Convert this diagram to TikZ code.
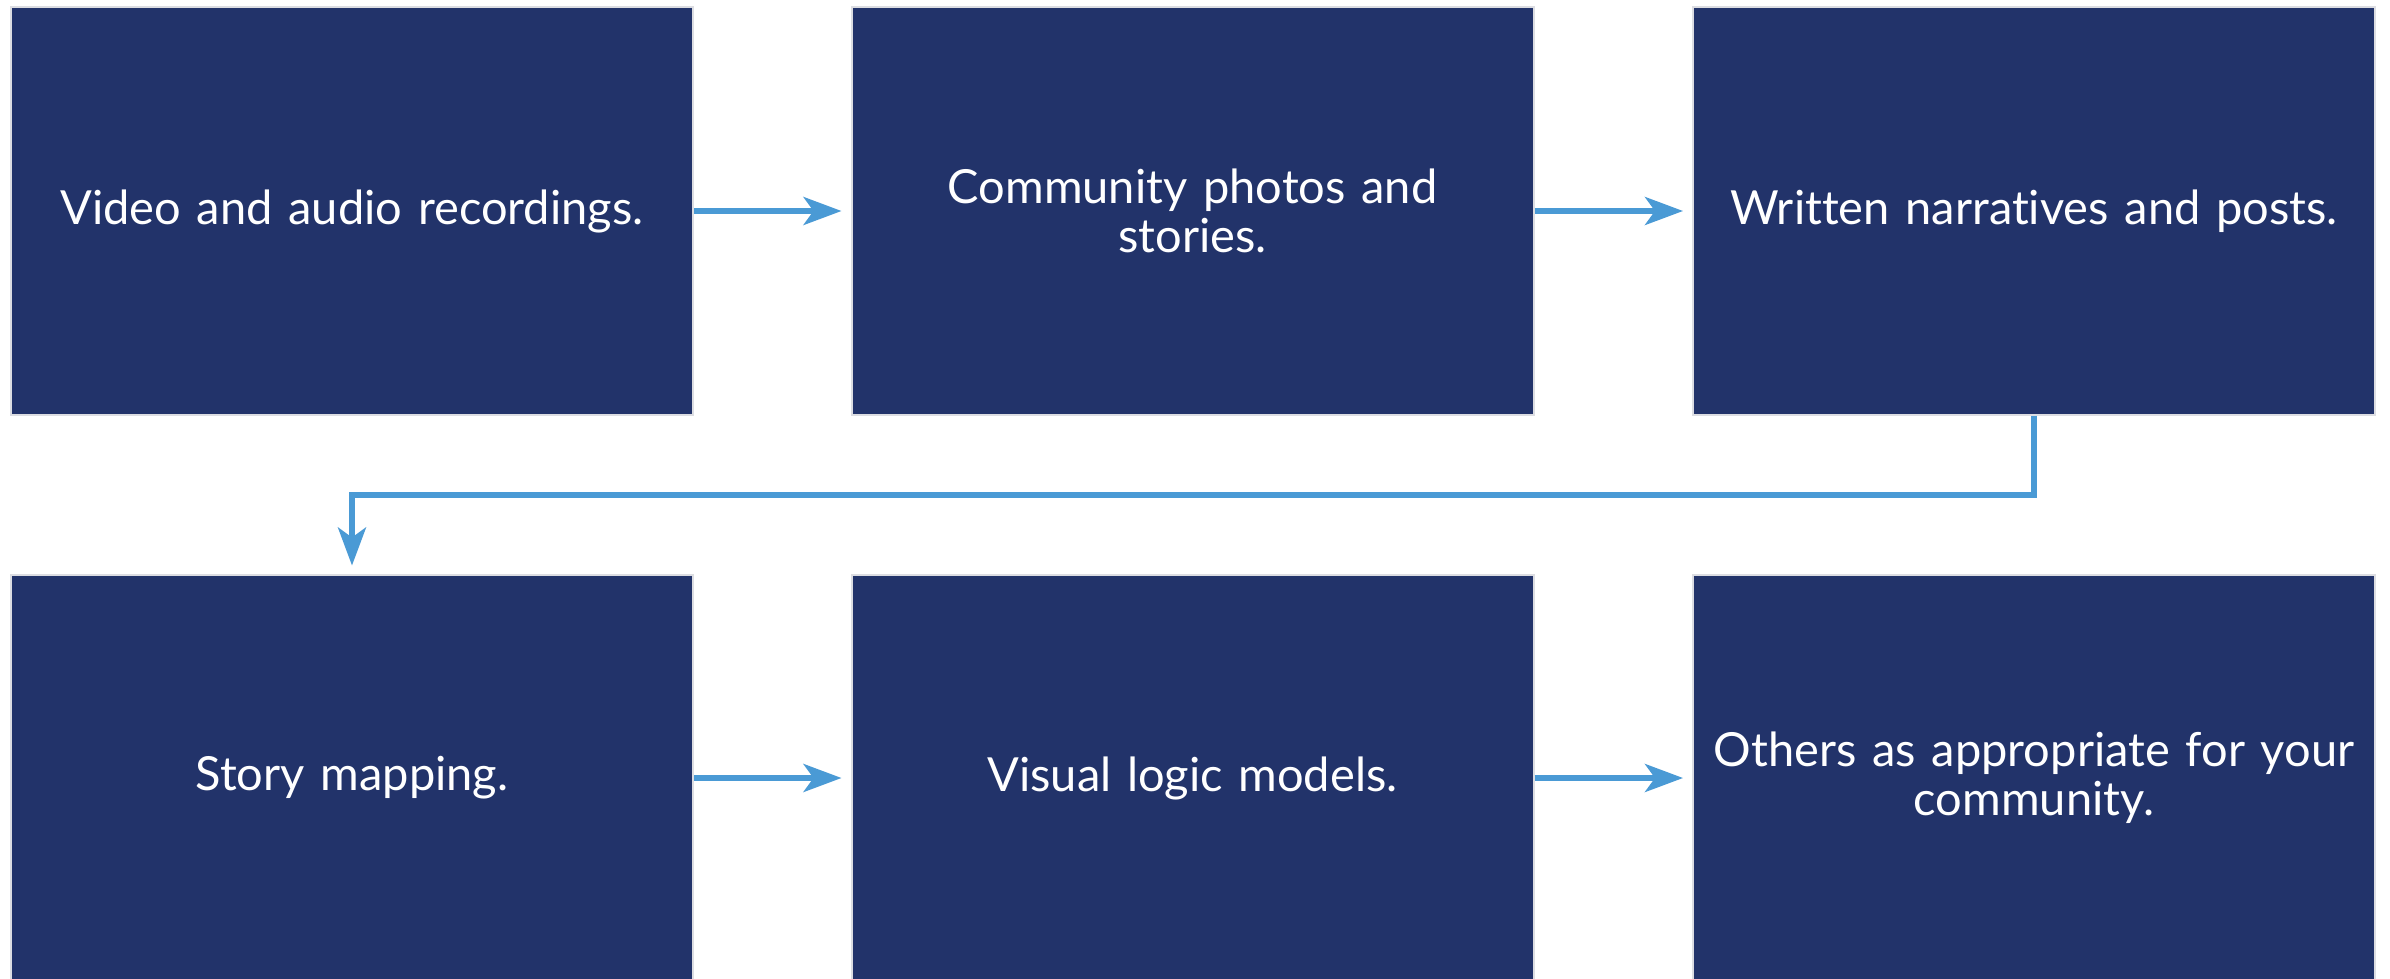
\documentclass[tikz,border=0pt]{standalone}
\usepackage{fontspec}
\setmainfont{Lato}[Ligatures={NoCommon}]
\usetikzlibrary{arrows.meta}
\definecolor{navy}{HTML}{22336A}
\definecolor{arrowblue}{HTML}{4A9AD5}
\definecolor{edgegray}{HTML}{DCDDE2}
\begin{document}
\begin{tikzpicture}[x=0.5pt,y=-0.5pt,
  box/.style={draw=edgegray, line width=1pt, fill=navy, text=white,
    minimum width=341pt, minimum height=203.5pt, inner sep=0pt,
    text width=338pt, align=center,
    font=\fontsize{23.5pt}{24.4pt}\selectfont},
  flow/.style={draw=arrowblue, line width=2.65pt,
    -{Stealth[length=19pt,width=14pt,inset=5pt]}}]
\useasboundingbox (0,0) rectangle (2390,979);
\clip (0,0) rectangle (2390,979);
\fill[white] (0,0) rectangle (2390,979);
\node[box] (b1) at (352,211) {Video and audio recordings.};
\node[box] (b2) at (1192.5,211) {Community photos and\\stories.};
\node[box] (b3) at (2034,211) {Written narratives and posts.};
\node[box] (b4) at (352,778) {Story mapping.};
\node[box] (b5) at (1192.5,778) {Visual logic models.};
\node[box] (b6) at (2034,778) {Others as appropriate for your\\community.};
\draw[flow, shorten >=4.5pt] (b1.east) -- (b2.west);
\draw[flow, shorten >=4.5pt] (b2.east) -- (b3.west);
\draw[flow, shorten >=4.5pt] (b4.east) -- (b5.west);
\draw[flow, shorten >=4.5pt] (b5.east) -- (b6.west);
\coordinate (c1) at (2034,495);
\coordinate (c2) at (352,495);
\draw[flow, shorten >=4pt] (b3.south) -- (c1) -- (c2) -- (b4.north);
\end{tikzpicture}
\end{document}
